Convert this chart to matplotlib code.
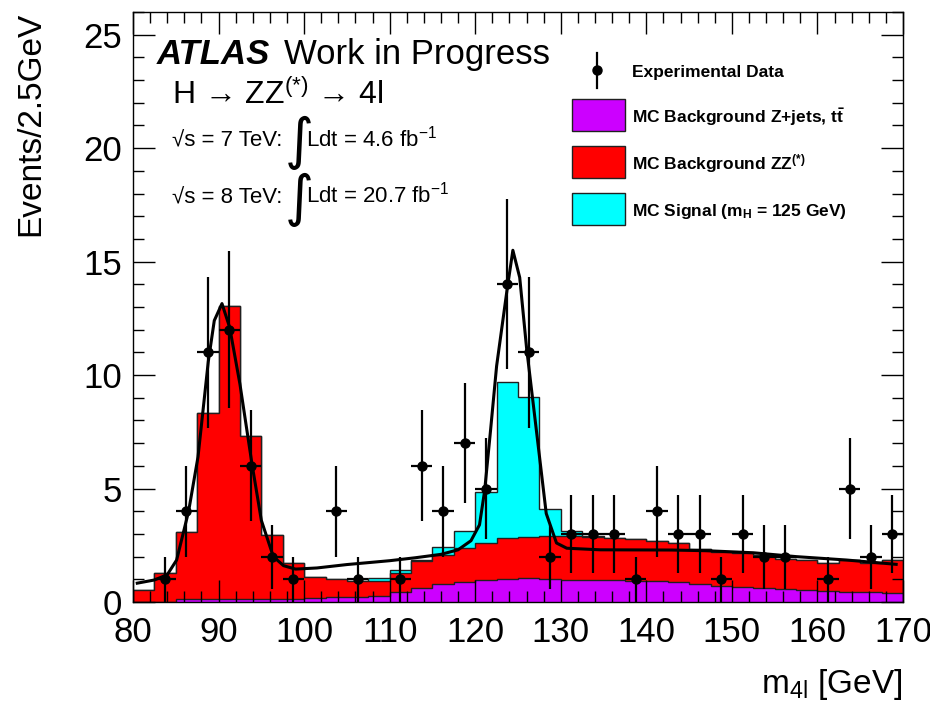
import numpy as np
import matplotlib
matplotlib.use("Agg")
import matplotlib.pyplot as plt
from matplotlib.patches import Rectangle
from matplotlib.lines import Line2D
from matplotlib.ticker import MultipleLocator

plt.rcParams['font.family'] = ['Liberation Sans', 'DejaVu Sans']
plt.rcParams['mathtext.fontset'] = 'custom'
plt.rcParams['mathtext.rm'] = 'Liberation Sans'
plt.rcParams['mathtext.it'] = 'Liberation Sans:italic'
plt.rcParams['mathtext.bf'] = 'Liberation Sans:bold'

# m4l binning, 80-170 GeV, 2.5 GeV bins
edges = np.arange(80, 170.01, 2.5)
centers = edges[:-1] + 1.25

# observed events per bin
data = [0, 1, 4, 11, 12, 6, 2, 1, 0, 4, 1, 0, 1, 6, 4, 7, 5, 14,
        11, 2, 3, 3, 3, 1, 4, 3, 3, 1, 3, 2, 2, 0, 1, 5, 2, 3]

# MC: Z+jets, ttbar
zjets = [0.0, 0.0, 0.12, 0.12, 0.12, 0.12, 0.15, 0.15, 0.18, 0.20, 0.23, 0.26,
         0.45, 0.62, 0.80, 0.87, 0.99, 1.01, 1.07, 1.01, 0.98, 0.98, 0.96, 0.94,
         0.93, 0.88, 0.78, 0.70, 0.68, 0.62, 0.56, 0.53, 0.49, 0.45, 0.42, 0.38]

# MC: ZZ(*)
zz = [0.53, 1.26, 2.98, 8.22, 12.93, 7.18, 2.80, 1.58, 0.94, 0.80, 0.69, 0.66,
      0.84, 1.20, 1.28, 1.53, 1.63, 1.79, 1.81, 1.89, 1.95, 1.90, 1.84, 1.83,
      1.74, 1.70, 1.54, 1.52, 1.49, 1.45, 1.33, 1.32, 1.25, 1.40, 1.30, 1.47]

# MC: signal mH = 125 GeV
signal = [0, 0, 0, 0, 0, 0, 0, 0, 0, 0, 0, 0.13,
          0.12, 0.04, 0.33, 0.74, 2.21, 6.90, 6.14, 1.20, 0.21, 0.03, 0, 0,
          0, 0, 0, 0, 0, 0, 0, 0, 0, 0, 0, 0]

# fitted curve
fit_m = [80.5, 82.5, 84.0, 85.1, 86.5, 87.6, 88.8, 89.5, 90.4, 91.3, 92.5,
         93.9, 95.0, 96.4, 97.6, 99.0, 101.5, 105.0, 110.0, 113.0, 116.0,
         118.0, 119.5, 120.5, 121.1, 121.8, 122.5, 123.7, 124.4, 125.2, 126.0,
         127.2, 128.3, 129.5, 130.7, 134.6, 143.0, 147.0, 152.5, 157.5, 163.4, 169.2]
fit_v = [0.83, 0.97, 1.2, 1.85, 4.0, 6.4, 10.6, 12.4, 13.15, 12.1, 9.6,
         6.1, 3.6, 2.0, 1.6, 1.45, 1.5, 1.65, 1.82, 1.95, 2.1,
         2.3, 2.7, 3.4, 4.9, 7.6, 10.4, 13.7, 15.5, 14.3, 11.2,
         7.4, 3.9, 2.6, 2.37, 2.3, 2.29, 2.26, 2.17, 2.0, 1.85, 1.66]

W, H = 930, 704


def px(x, y):
    return x / W, 1 - y / H


fig = plt.figure(figsize=(W / 100, H / 100), dpi=100)
ax = fig.add_axes([133 / W, 1 - 602 / H, 770 / W, 590 / H])

zj = np.array(zjets)
zz_top = zj + np.array(zz)
sig_top = zz_top + np.array(signal)

edge_c = '#202020'
ax.stairs(sig_top, edges, fill=True, facecolor='#00ffff', edgecolor=edge_c, lw=1)
ax.stairs(zz_top, edges, fill=True, facecolor='#ff0000', edgecolor=edge_c, lw=1)
ax.stairs(zj, edges, fill=True, facecolor='#cc00ff', edgecolor=edge_c, lw=1)

ax.plot(fit_m, fit_v, color='k', lw=2.2)

d = np.array(data, dtype=float)
m = d > 0
ax.errorbar(centers[m], d[m], yerr=np.sqrt(d[m]), xerr=1.25, fmt='o', color='k',
            ms=6.5, elinewidth=1.6, capsize=0)

ax.set_xlim(80, 170)
ax.set_ylim(0, 26)
ax.xaxis.set_major_locator(MultipleLocator(10))
ax.xaxis.set_minor_locator(MultipleLocator(2))
ax.yaxis.set_major_locator(MultipleLocator(5))
ax.yaxis.set_minor_locator(MultipleLocator(1))
ax.tick_params(which='both', direction='in', top=True, right=True, width=1)
ax.tick_params(which='major', length=16)
ax.tick_params(which='minor', length=8)
ax.tick_params(axis='x', labelsize=25, pad=10)
ax.tick_params(axis='y', labelsize=25, pad=8)
for s in ax.spines.values():
    s.set_linewidth(1)

ax.set_ylabel('Events/2.5GeV', fontsize=24, loc='top')
ax.yaxis.set_label_coords(-0.113, 1.0)
ax.set_xlabel(r'm$_{\mathrm{4l}}$ [GeV]', fontsize=24, loc='right')
ax.xaxis.set_label_coords(1.0, -0.11)

# ATLAS label block
fig.text(*px(157, 64), 'ATLAS', fontsize=25, fontweight='bold', style='italic', va='baseline')
fig.text(*px(284, 64), 'Work in Progress', fontsize=25, va='baseline')
fig.text(*px(172, 104), 'H \u2192 ZZ$^{(*)}$ \u2192 4l', fontsize=23, va='baseline')
for yb, en, lumi in [(146, '7', '4.6'), (203, '8', '20.7')]:
    fig.text(*px(172, yb), '\u221as = ' + en + ' TeV:', fontsize=16, va='baseline')
    fig.text(*px(285, yb - 3), '\u222b', fontsize=40, va='center', family='DejaVu Sans')
    fig.text(*px(306, yb), 'Ldt = ' + lumi + ' fb$^{-1}$', fontsize=16, va='baseline')

# legend
fig.add_artist(Line2D([597 / W, 597 / W], [1 - 53 / H, 1 - 88 / H], color='k', lw=1.6))
fig.add_artist(Line2D([597 / W], [1 - 70 / H], marker='o', ms=6.5, color='k'))
fig.text(*px(632, 72), 'Experimental Data', fontsize=12.5, fontweight='bold', va='center')
legend_rows = [
    (99, '#cc00ff', r'MC Background Z+jets, $\mathbf{t\bar{t}}$'),
    (146, '#ff0000', r'MC Background ZZ$^{\mathbf{(*)}}$'),
    (193, '#00ffff', r'MC Signal (m$_{\mathbf{H}}$ = 125 GeV)'),
]
for ytop, col, lab in legend_rows:
    fig.add_artist(Rectangle(px(572, ytop + 32), 53 / W, 32 / H, facecolor=col,
                             edgecolor=edge_c, lw=1, transform=fig.transFigure))
    fig.text(*px(632, ytop + 18), lab, fontsize=12.5, fontweight='bold', va='center')

fig.savefig('out.png', dpi=100)
